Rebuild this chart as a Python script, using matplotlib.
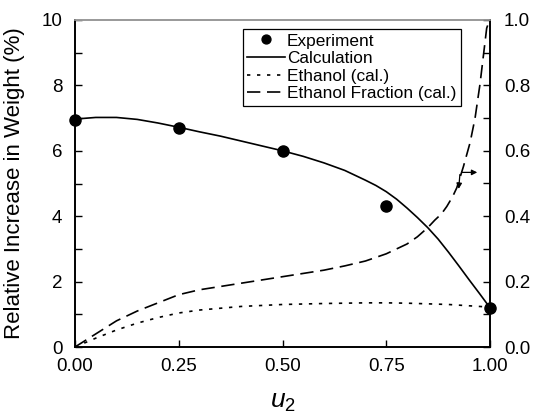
import matplotlib
matplotlib.use("Agg")
import matplotlib.pyplot as plt
from matplotlib.ticker import MultipleLocator

plt.rcParams['font.family'] = ['Liberation Sans', 'DejaVu Sans']
plt.rcParams['mathtext.fontset'] = 'custom'
plt.rcParams['mathtext.it'] = 'Liberation Sans:italic'
plt.rcParams['mathtext.rm'] = 'Liberation Sans'

# experiment points (left axis, %)
u_exp = [0.0, 0.25, 0.5, 0.75, 1.0]
w_exp = [6.95, 6.7, 6.0, 4.3, 1.2]

# calculated weight increase (left axis, %)
u_calc = [0.0, 0.05, 0.1, 0.15, 0.2, 0.25, 0.3, 0.35, 0.4, 0.45, 0.5,
          0.55, 0.6, 0.65, 0.7, 0.725, 0.75, 0.775, 0.8, 0.825, 0.85,
          0.875, 0.9, 0.925, 0.95, 0.975, 1.0]
w_calc = [6.97, 7.02, 7.02, 6.96, 6.85, 6.72, 6.58, 6.45, 6.3, 6.15, 6.0,
          5.83, 5.63, 5.4, 5.1, 4.94, 4.75, 4.52, 4.25, 3.96, 3.65,
          3.3, 2.9, 2.48, 2.05, 1.63, 1.2]

# ethanol (cal.) (left axis, %)
u_eth = [0.0, 0.05, 0.1, 0.15, 0.2, 0.25, 0.3, 0.4, 0.5, 0.6, 0.7, 0.75, 0.8, 0.9, 1.0]
w_eth = [0.0, 0.27, 0.52, 0.73, 0.9, 1.04, 1.13, 1.24, 1.3, 1.33, 1.35, 1.35, 1.34, 1.3, 1.22]

# ethanol fraction (cal.) (right axis)
u_frac = [0.0, 0.05, 0.1, 0.15, 0.2, 0.25, 0.3, 0.4, 0.5, 0.6, 0.65, 0.7, 0.75,
          0.8, 0.825, 0.85, 0.867, 0.883, 0.896, 0.91, 0.92, 0.936, 0.952,
          0.964, 0.976, 0.984, 0.992, 0.999]
f_frac = [0.0, 0.04, 0.08, 0.11, 0.135, 0.16, 0.175, 0.195, 0.215, 0.235, 0.248, 0.263, 0.285,
          0.315, 0.337, 0.365, 0.388, 0.407, 0.43, 0.46, 0.487, 0.552, 0.625,
          0.7, 0.805, 0.89, 0.975, 1.0]

fig = plt.figure(figsize=(5.35, 4.16), dpi=100)
ax = fig.add_axes([75/535, 1 - 347/416, 415/535, 327/416])
ax2 = ax.twinx()

lw = 1.2
ax.plot(u_exp, w_exp, 'o', color='black', markersize=8, clip_on=False, zorder=5, label='Experiment')
ax.plot(u_calc, w_calc, '-', color='black', lw=lw, label='Calculation')
ax.plot(u_eth, w_eth, color='black', lw=lw, dashes=(2, 4), label='Ethanol (cal.)')
ax2.plot(u_frac, f_frac, color='black', lw=lw, dashes=(8, 4), clip_on=False)
ax.plot([], [], color='black', lw=lw, dashes=(8, 4), label='Ethanol Fraction (cal.)')

ax.set_xlim(0, 1)
ax.set_ylim(0, 10)
ax2.set_ylim(0, 1)

ax.xaxis.set_major_locator(MultipleLocator(0.25))
ax.yaxis.set_major_locator(MultipleLocator(2))
ax.yaxis.set_minor_locator(MultipleLocator(1))
ax2.yaxis.set_major_locator(MultipleLocator(0.2))
ax2.yaxis.set_minor_locator(MultipleLocator(0.1))
ax.xaxis.set_major_formatter(lambda v, p: f"{v:.2f}")
ax.yaxis.set_major_formatter(lambda v, p: f"{v:.0f}")
ax2.yaxis.set_major_formatter(lambda v, p: f"{v:.1f}")

ax.tick_params(axis='x', direction='in', length=5, width=1, labelsize=13.5, pad=8, top=False)
ax.tick_params(axis='y', which='both', direction='in', length=5, width=1, labelsize=13.5, pad=9)
ax2.tick_params(axis='y', which='both', direction='in', length=5, width=1, labelsize=13.5, pad=10)

for a in (ax, ax2):
    for s in a.spines.values():
        s.set_linewidth(1.2)
    a.spines['top'].set_color('#999999')

ax.set_ylabel('Relative Increase in Weight (%)', fontsize=16, labelpad=12)
ax.set_xlabel(r'$u_2$', fontsize=19, labelpad=11)

# arrow pointing to right axis
ax2.annotate('', xy=(0.976, 0.534), xytext=(0.926, 0.534),
             arrowprops=dict(arrowstyle='-|>', color='black', lw=0.9, mutation_scale=8))
ax2.annotate('', xy=(0.924, 0.475), xytext=(0.928, 0.536),
             arrowprops=dict(arrowstyle='-|>', color='black', lw=0.9, mutation_scale=8))

leg = ax.legend(loc='upper left', bbox_to_anchor=(0.405, 0.972), fontsize=12.4,
                frameon=True, fancybox=False, edgecolor='black', framealpha=1,
                handlelength=2.2, handletextpad=0.1, borderpad=0.25, labelspacing=0.15,
                borderaxespad=0, markerscale=0.8)
leg.get_frame().set_linewidth(0.9)

fig.savefig('out.png', dpi=100)
